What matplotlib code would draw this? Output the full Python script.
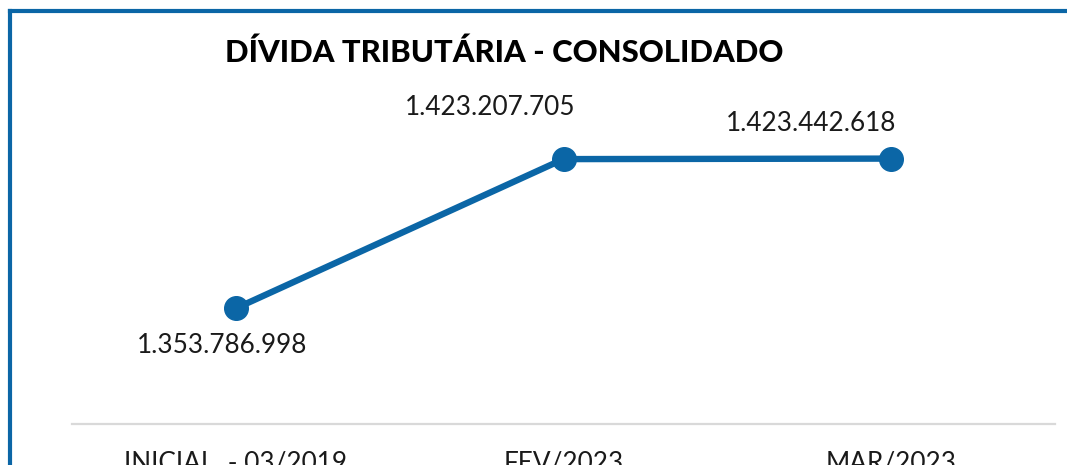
import matplotlib
matplotlib.use('Agg')
import matplotlib.pyplot as plt
from matplotlib.lines import Line2D

plt.rcParams['font.family'] = ['Lato', 'DejaVu Sans']

# chart data
categories = ['INICIAL  - 03/2019', 'FEV/2023', 'MAR/2023']
values = [1353786998, 1423207705, 1423442618]
value_labels = ['1.353.786.998', '1.423.207.705', '1.423.442.618']

blue = '#0b66a6'

fig = plt.figure(figsize=(10.67, 4.65), dpi=100)
ax = fig.add_axes([72 / 1067, 1 - 424 / 465, (1055 - 72) / 1067, (424 - 80) / 465])

x = list(range(len(categories)))
ax.plot(x, values, color=blue, linewidth=4.6, marker='o', markersize=17,
        solid_capstyle='round', clip_on=False, zorder=3)

# data labels, offsets in points as placed in the original
offsets = [(-10, -27), (-53, 37), (-58, 25)]
for xi, v, lab, off in zip(x, values, value_labels, offsets):
    ax.annotate(lab, (xi, v), xytext=off, textcoords='offset points',
                ha='center', va='center', fontsize=18.8, color='#1a1a1a')

ax.set_xlim(-0.5, 2.5)
ax.set_ylim(1300e6, 1460e6)
ax.set_yticks([])
ax.set_xticks(x)
ax.set_xticklabels(categories, fontsize=18.8, color='#1a1a1a')
ax.tick_params(axis='x', length=0, pad=19)
for s in ['top', 'right', 'left']:
    ax.spines[s].set_visible(False)
ax.spines['bottom'].set_color('#d9d9d9')
ax.spines['bottom'].set_linewidth(1.6)

fig.text(504 / 1067, 1 - 53 / 465, 'DÍVIDA TRIBUTÁRIA - CONSOLIDADO',
         ha='center', va='center', fontsize=22.3, fontweight='black', color='black')

# frame border on left and top
fig.add_artist(Line2D([10 / 1067, 10 / 1067], [0, 1 - 11.5 / 465], color=blue,
                      linewidth=3, transform=fig.transFigure, solid_capstyle='projecting'))
fig.add_artist(Line2D([10 / 1067, 1], [1 - 11.5 / 465, 1 - 11.5 / 465], color=blue,
                      linewidth=3, transform=fig.transFigure, solid_capstyle='projecting'))

fig.savefig('out.png', dpi=100)
